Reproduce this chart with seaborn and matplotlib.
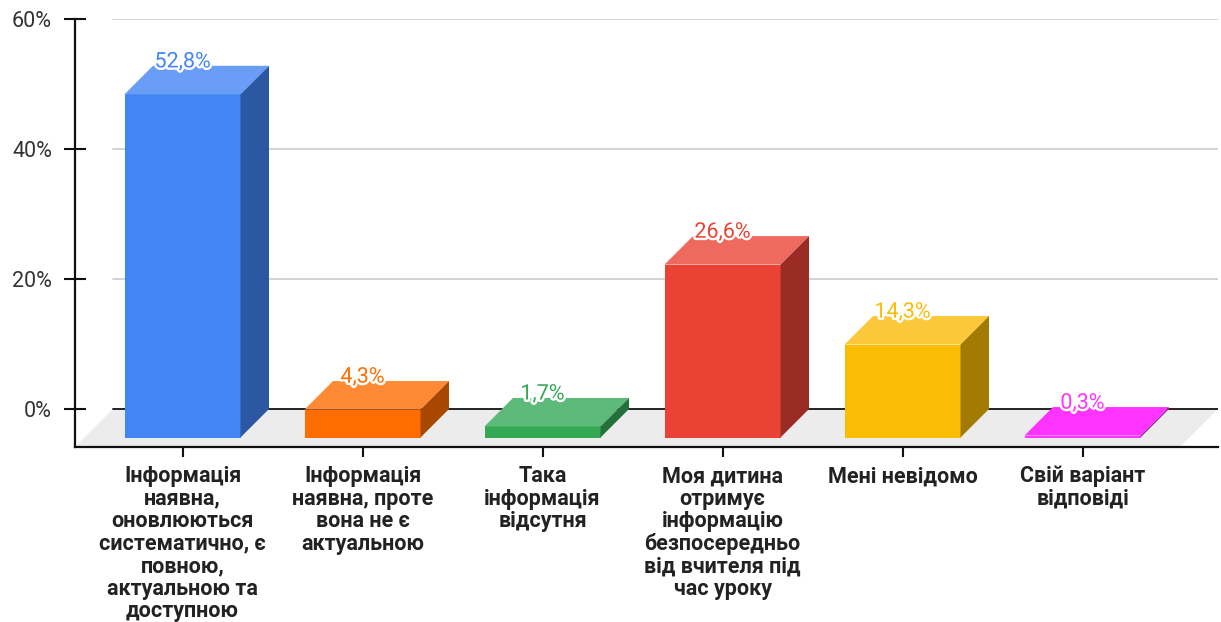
import matplotlib
matplotlib.use("Agg")
import matplotlib.pyplot as plt
from matplotlib.patches import Polygon
import matplotlib.patheffects as pe
import seaborn as sns

# Survey answers and shares (%)
categories = [
    "Інформація\nнаявна,\nоновлюються\nсистематично, є\nповною,\nактуальною та\nдоступною",
    "Інформація\nнаявна, проте\nвона не є\nактуальною",
    "Така\nінформація\nвідсутня",
    "Моя дитина\nотримує\nінформацію\nбезпосередньо\nвід вчителя під\nчас уроку",
    "Мені невідомо",
    "Свій варіант\nвідповіді",
]
values = [52.8, 4.3, 1.7, 26.6, 14.3, 0.3]
value_labels = ["52,8%", "4,3%", "1,7%", "26,6%", "14,3%", "0,3%"]
y_ticks = [0, 20, 40, 60]
y_tick_labels = ["0%", "20%", "40%", "60%"]

# Face colours: front, top, side
front_colors = ["#4285F4", "#FF6D01", "#34A853", "#EA4335", "#FBBC04", "#FF33FF"]
top_colors = ["#699DF6", "#FF8A35", "#5DBA78", "#EE6A5F", "#FCC83B", "#FF33FF"]
side_colors = ["#2C57A3", "#A84700", "#22713A", "#9A2C25", "#A47B02", "#A621A6"]

sns.set_theme(style="white")
plt.rcParams["font.family"] = ["Roboto", "DejaVu Sans"]

W, H = 1221, 622
fig = plt.figure(figsize=(W / 100, H / 100), dpi=100)
ax_left, ax_right, ax_top, ax_bottom = 75, 1218, 19, 447
ax = fig.add_axes([ax_left / W, (H - ax_bottom) / H,
                   (ax_right - ax_left) / W, (ax_bottom - ax_top) / H])

# pixel scales of the 3D projection
px_per_cat = 180.0
px_per_pct = 6.5
first_center_px = 182.5
zero_px = 409
bar_depth_px = 28.5
floor_depth_px = 38

x_lo = -(first_center_px - ax_left) / px_per_cat
x_hi = (ax_right - first_center_px) / px_per_cat
y_lo = -(ax_bottom - zero_px) / px_per_pct
y_hi = (zero_px - ax_top) / px_per_pct

sns.barplot(x=list(range(len(values))), y=values, hue=list(range(len(values))),
            palette=front_colors, width=116 / px_per_cat, legend=False,
            saturation=1, ax=ax, zorder=4, linewidth=0)

ax.set_xlim(x_lo, x_hi)
ax.set_ylim(y_lo, y_hi)

dx = bar_depth_px / px_per_cat
dy = bar_depth_px / px_per_pct

# floor of the 3D box
fdx = floor_depth_px / px_per_cat
floor = Polygon([(x_lo, y_lo), (x_lo + fdx, 0), (x_hi, 0), (x_hi - fdx, y_lo)],
                closed=True, facecolor="#ECECEC", edgecolor="none", zorder=1)
ax.add_patch(floor)

# gridlines on the back wall
gx0 = fdx / (x_hi - x_lo)
for t in y_ticks:
    if t == 0:
        ax.axhline(t, xmin=gx0, xmax=1, color="#222222", lw=1.4, zorder=2)
    else:
        ax.axhline(t, xmin=gx0, xmax=1, color="#CCCCCC", lw=1.2, zorder=2)

# extrude each bar: the front face sits in front of the wall, top and side faces join them
for i, patch in enumerate(ax.patches[:len(values)]):
    x0 = patch.get_x()
    w = patch.get_width()
    h = patch.get_height()
    x1 = x0 + w
    patch.set_y(-dy)
    patch.set_height(h)
    top = Polygon([(x0, h - dy), (x1, h - dy), (x1 + dx, h), (x0 + dx, h)],
                  closed=True, facecolor=top_colors[i], edgecolor="none", zorder=4)
    side = Polygon([(x1, -dy), (x1 + dx, 0), (x1 + dx, h), (x1, h - dy)],
                   closed=True, facecolor=side_colors[i], edgecolor="none", zorder=4)
    ax.add_patch(top)
    ax.add_patch(side)
    ax.text(x0 + w / 2, h + 0.6, value_labels[i], ha="center", va="center",
            fontsize=15.5, color=front_colors[i], zorder=6,
            path_effects=[pe.withStroke(linewidth=3.5, foreground="white")])

# axes
for s in ["top", "right"]:
    ax.spines[s].set_visible(False)
for s in ["left", "bottom"]:
    ax.spines[s].set_color("#111111")
    ax.spines[s].set_linewidth(1.6)

ax.set_yticks(y_ticks)
ax.set_yticklabels(y_tick_labels)
ax.set_xticks(range(len(values)))
ax.set_xticklabels(categories, fontweight="bold", linespacing=1.03)
ax.tick_params(axis="y", left=True, direction="inout", length=16, width=1.5,
               color="#111111", pad=8.5, labelsize=15.5, labelcolor="#333333")
ax.tick_params(axis="x", bottom=True, direction="inout", length=15, width=1.5,
               color="#111111", pad=5.5, labelsize=15.5, labelcolor="#222222")
ax.set_xlabel("")
ax.set_ylabel("")
ax.grid(False)

fig.savefig("out.png", dpi=100)
